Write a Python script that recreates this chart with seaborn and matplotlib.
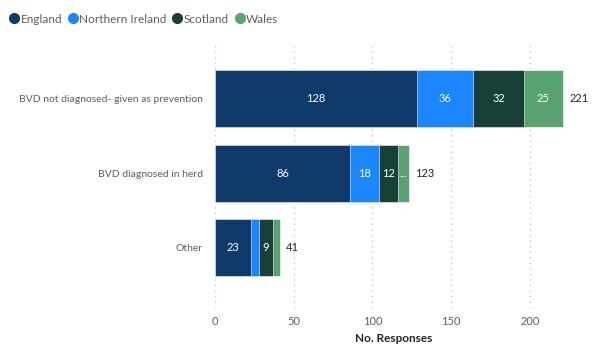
import numpy as np
import pandas as pd
import matplotlib.pyplot as plt
import seaborn as sns
from matplotlib.lines import Line2D

# data
categories = ['BVD not diagnosed- given as prevention', 'BVD diagnosed in herd', 'Other']
england = [128, 86, 23]
northern_ireland = [36, 18, 5]
scotland = [32, 12, 9]
wales = [25, 7, 4]

series = ['England', 'Northern Ireland', 'Scotland', 'Wales']
colors = ['#0F3A6A', '#1A86FF', '#183F38', '#58A36F']

sns.set_theme(style='white')
plt.rcParams['font.family'] = ['Lato', 'DejaVu Sans']

df = pd.DataFrame({'Category': categories, 'England': england,
                   'Northern Ireland': northern_ireland, 'Scotland': scotland, 'Wales': wales})
cum = df[series].cumsum(axis=1)
totals = cum['Wales']

fig = plt.figure(figsize=(6.02, 3.5), dpi=100)
ax = fig.add_axes([215 / 602, 1 - 308 / 350, (572 - 215) / 602, (308 - 42) / 350])

# stacked bars: draw cumulative widths, widest first
for name, col in reversed(list(zip(series, colors))):
    sns.barplot(x=cum[name], y=df['Category'], color=col, width=0.765, saturation=1,
                orient='h', ax=ax, edgecolor='white', linewidth=0.4)

# segment labels
for i in range(len(categories)):
    left = 0
    for name in series:
        v = df[name][i]
        if v >= 9:
            ax.text(left + v / 2, i, str(v), ha='center', va='center', color='white', fontsize=8)
        elif v >= 7:
            ax.text(left + v / 2, i, '...', ha='center', va='center', color='white', fontsize=8)
        left += v
    ax.text(totals[i] + 4, i, str(totals[i]), ha='left', va='center', color='#252423', fontsize=8)

ax.set_xlim(0, 226.7)
ax.set_ylim(2.81, -0.758)
ax.set_xticks([0, 50, 100, 150, 200])
ax.xaxis.grid(True, linestyle=(0, (1, 3)), color='#C8C8C8', linewidth=1)
ax.set_axisbelow(True)
for s in ax.spines.values():
    s.set_visible(False)
ax.tick_params(axis='x', colors='#605E5C', labelsize=8, length=0, pad=6)
ax.tick_params(axis='y', colors='#605E5C', labelsize=7.5, length=0, pad=9)
ax.set_ylabel('')
ax.set_xlabel('No. Responses', fontsize=8.5, color='#252423', fontweight='bold', labelpad=4)

handles = [Line2D([], [], marker='o', linestyle='', markersize=7, color=c) for c in colors]
fig.legend(handles, series, loc='upper left', bbox_to_anchor=(0.0, 0.985), ncol=4, frameon=False,
           fontsize=8.5, labelcolor='#605E5C', handletextpad=0.05, columnspacing=0.4,
           borderaxespad=0.3, handlelength=1.0)

fig.savefig('out.png', dpi=100)
